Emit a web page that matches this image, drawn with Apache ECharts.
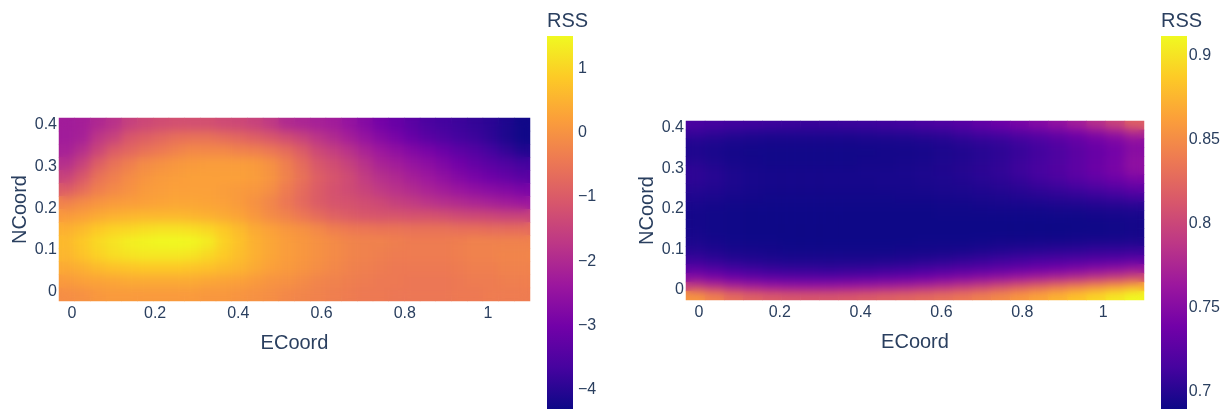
<!DOCTYPE html>
<html lang="en">
<head>
<meta charset="UTF-8">
<title>RSS heatmaps</title>
<style>
  html, body { margin: 0; background: #fff; }
  #chart { width: 1223px; height: 409px; }
  /* zlevel 1 holds a second copy of the heatmaps, softened like the smoothed originals */
  #chart canvas[data-zr-dom-id="zr_1"] {
    filter: blur(5px);
    clip-path: path('M59 118H530V301H59Z M686 121H1144V300H686Z');
  }
</style>
</head>
<body>
<div id="chart"></div>
<script src="https://cdn.jsdelivr.net/npm/echarts@6/dist/echarts.min.js"></script>
<script>
// values, rows listed from the top of the plot down
var leftRss = [
  [-2.3,-2.25,-2.05,-1.85,-1.55,-1.4,-1.3,-1.25,-1.25,-1.25,-1.35,-1.4,-1.5,-1.7,-2.0,-2.1,-2.2,-2.3,-2.5,-2.75,-3.0,-3.2,-3.4,-3.6,-3.7,-3.8,-3.9,-4.0,-4.15,-4.3],
  [-2.3,-2.2,-1.75,-1.5,-1.1,-.95,-.8,-.65,-.6,-.6,-.7,-.8,-.95,-1.1,-1.3,-1.5,-1.8,-2.0,-2.25,-2.5,-2.75,-2.95,-3.2,-3.4,-3.55,-3.7,-3.8,-3.95,-4.15,-4.3],
  [-2.2,-1.9,-1.45,-1.0,-.8,-.6,-.45,-.3,-.2,-.2,-.2,-.3,-.35,-.5,-.7,-1.0,-1.4,-1.6,-1.85,-2.15,-2.4,-2.6,-2.8,-2.95,-3.15,-3.35,-3.5,-3.7,-3.9,-4.1],
  [-1.9,-1.5,-.95,-.6,-.35,-.15,-.05,.05,.1,.15,.15,.15,.1,-.05,-.35,-.7,-1.1,-1.3,-1.55,-1.85,-2.15,-2.3,-2.5,-2.65,-2.85,-3.05,-3.25,-3.4,-3.55,-3.7],
  [-1.5,-1.1,-.6,-.35,-.15,0,.1,.15,.2,.2,.2,.2,.15,0,-.3,-.6,-.95,-1.15,-1.35,-1.65,-1.9,-2.05,-2.25,-2.4,-2.6,-2.8,-2.95,-3.1,-3.25,-3.4],
  [-1.0,-.7,-.35,-.2,-.05,.1,.15,.2,.2,.2,.15,.1,.05,-.1,-.4,-.7,-1.0,-1.2,-1.35,-1.5,-1.7,-1.85,-2.0,-2.15,-2.3,-2.45,-2.6,-2.7,-2.8,-2.9],
  [-.3,-.15,0,.1,.15,.2,.25,.3,.3,.25,.2,.1,-.05,-.25,-.5,-.75,-1.0,-1.15,-1.2,-1.3,-1.4,-1.55,-1.65,-1.8,-1.9,-2.0,-2.1,-2.2,-2.3,-2.4],
  [.1,.2,.35,.45,.5,.55,.55,.55,.5,.45,.35,.25,.05,-.15,-.3,-.5,-.7,-.9,-1.0,-1.1,-1.15,-1.15,-1.2,-1.2,-1.25,-1.35,-1.4,-1.45,-1.5,-1.5],
  [.45,.6,.8,.95,1.0,1.1,1.15,1.15,1.1,1.0,.8,.6,.35,.2,.05,-.05,-.2,-.35,-.45,-.5,-.55,-.55,-.6,-.6,-.6,-.65,-.65,-.7,-.7,-.7],
  [.6,.8,1.05,1.2,1.35,1.42,1.47,1.48,1.45,1.3,.95,.7,.45,.3,.15,.05,-.05,-.15,-.25,-.3,-.3,-.35,-.4,-.4,-.4,-.35,-.3,-.3,-.3,-.3],
  [.55,.75,.95,1.1,1.2,1.25,1.25,1.25,1.2,1.05,.85,.65,.45,.3,.15,.05,-.05,-.15,-.25,-.3,-.35,-.4,-.4,-.4,-.4,-.35,-.3,-.3,-.25,-.25],
  [.35,.45,.6,.7,.75,.8,.8,.8,.75,.7,.6,.5,.35,.2,.1,0,-.1,-.2,-.3,-.35,-.4,-.45,-.45,-.45,-.45,-.4,-.35,-.35,-.3,-.3],
  [.1,.2,.25,.3,.35,.35,.35,.35,.35,.3,.25,.2,.1,0,-.05,-.15,-.25,-.3,-.35,-.4,-.45,-.45,-.5,-.5,-.5,-.45,-.4,-.4,-.35,-.35],
  [-.1,-.05,.05,.1,.1,.1,.1,.1,.1,.05,.05,0,-.05,-.1,-.2,-.25,-.3,-.35,-.4,-.45,-.45,-.5,-.5,-.5,-.5,-.45,-.45,-.4,-.4,-.4]
];
var rightRss = [
  [.716,.714,.712,.711,.710,.709,.708,.708,.709,.710,.711,.713,.716,.719,.723,.729,.735,.742,.749,.757,.768,.782,.797,.818],
  [.706,.703,.700,.698,.697,.697,.697,.697,.697,.698,.699,.700,.702,.704,.708,.712,.715,.720,.725,.731,.738,.747,.757,.772],
  [.698,.696,.694,.693,.692,.692,.692,.692,.692,.693,.693,.694,.695,.697,.700,.703,.705,.710,.715,.721,.728,.735,.742,.752],
  [.696,.694,.692,.691,.691,.691,.691,.691,.691,.691,.692,.692,.693,.695,.697,.700,.703,.707,.712,.718,.725,.732,.739,.751],
  [.699,.696,.693,.692,.691,.691,.691,.691,.691,.692,.692,.693,.694,.696,.698,.701,.704,.709,.714,.719,.726,.733,.741,.755],
  [.703,.699,.695,.693,.692,.692,.692,.692,.692,.693,.693,.694,.695,.697,.699,.702,.705,.710,.715,.720,.727,.734,.742,.754],
  [.703,.700,.696,.694,.693,.693,.693,.693,.693,.693,.694,.694,.695,.696,.698,.701,.703,.707,.712,.717,.723,.729,.735,.743],
  [.700,.698,.695,.693,.692,.692,.692,.692,.692,.692,.693,.693,.694,.695,.696,.698,.700,.702,.706,.709,.713,.718,.723,.729],
  [.697,.695,.693,.692,.691,.691,.691,.691,.691,.691,.691,.692,.692,.693,.694,.695,.696,.698,.700,.702,.704,.707,.710,.714],
  [.694,.692,.691,.690,.690,.690,.690,.690,.690,.690,.690,.690,.690,.691,.691,.692,.693,.693,.694,.695,.696,.698,.699,.701],
  [.692,.691,.690,.689,.689,.689,.689,.689,.689,.689,.689,.689,.689,.690,.690,.690,.690,.690,.690,.691,.691,.692,.693,.694],
  [.692,.691,.690,.689,.689,.689,.689,.689,.689,.689,.689,.689,.689,.689,.689,.689,.689,.689,.689,.689,.689,.690,.691,.692],
  [.693,.691,.690,.689,.689,.689,.689,.689,.689,.689,.689,.689,.689,.689,.689,.689,.689,.689,.689,.689,.690,.690,.691,.692],
  [.695,.693,.691,.690,.690,.689,.689,.689,.689,.689,.689,.689,.690,.690,.690,.691,.692,.692,.693,.693,.694,.695,.695,.696],
  [.700,.697,.694,.693,.692,.691,.691,.691,.691,.691,.691,.692,.692,.693,.694,.696,.698,.700,.701,.703,.704,.706,.707,.708],
  [.708,.704,.700,.698,.696,.695,.695,.695,.695,.695,.696,.697,.699,.701,.704,.707,.710,.712,.715,.717,.719,.721,.723,.726],
  [.725,.719,.713,.710,.707,.705,.705,.704,.705,.706,.708,.710,.713,.716,.720,.723,.727,.731,.735,.739,.744,.749,.754,.760],
  [.750,.743,.735,.730,.727,.725,.724,.724,.725,.727,.730,.733,.737,.742,.747,.752,.757,.763,.769,.775,.781,.788,.795,.803],
  [.795,.785,.775,.768,.763,.760,.759,.760,.762,.765,.768,.772,.777,.783,.790,.797,.806,.815,.824,.833,.842,.851,.860,.870],
  [.855,.842,.828,.820,.815,.812,.811,.811,.813,.816,.819,.822,.826,.830,.835,.841,.848,.856,.864,.873,.882,.892,.902,.910]
];
var eCoordTicks = [0, 0.2, 0.4, 0.6, 0.8, 1];
var nCoordTicks = [0, 0.1, 0.2, 0.3, 0.4];
var leftBarTicks = [-4, -3, -2, -1, 0, 1];
var rightBarTicks = [0.7, 0.75, 0.8, 0.85, 0.9];
var plasma = ['#0d0887','#46039f','#7201a8','#9c179e','#bd3786','#d8576b','#ed7953','#fb9f3a','#fdca26','#f0f921'];

var ink = '#2a3f5f';
var font = '"Liberation Sans", Arial, sans-serif';

function toCells(rows) {
  var cells = [];
  rows.forEach(function (row, r) {
    row.forEach(function (v, c) {
      cells.push([c, rows.length - 1 - r, v]);
    });
  });
  return cells;
}
function indexes(n) {
  var out = [];
  for (var i = 0; i < n; i++) out.push(i);
  return out;
}
// rich wrapper so the padding can push the digits down to where the original has them
function tickText(v) {
  return '{t|' + String(v).replace('-', '\u2212') + '}';
}
var tickRich = { t: { color: ink, fontSize: 16, fontFamily: font, padding: [4, 0, 0, 0] } };

var panels = [
  { rows: leftRss, plot: [59, 118, 471, 183], xr: [-0.031, 1.101], yr: [-0.027, 0.412], bar: [547, 26], vr: [-4.34, 1.484], ticks: leftBarTicks },
  { rows: rightRss, plot: [686, 121, 458, 179], xr: [-0.032, 1.101], yr: [-0.03, 0.412], bar: [1161, 26], vr: [0.6887, 0.9107], ticks: rightBarTicks }
];

var option = { animation: false, backgroundColor: '#fff', textStyle: { fontFamily: font }, title: [], grid: [], xAxis: [], yAxis: [], visualMap: [], series: [], graphic: [] };

panels.forEach(function (p, i) {
  var base = option.grid.length;
  var axisBase = option.xAxis.length;
  option.grid.push({ left: p.plot[0], top: p.plot[1], width: p.plot[2], height: p.plot[3], containLabel: false });
  option.grid.push({ left: p.bar[0], top: 36, width: p.bar[1], height: 373, containLabel: false });

  // category axes carry the cells, value axes on the same grid carry the numbers
  option.xAxis.push({ type: 'category', gridIndex: base, data: indexes(p.rows[0].length), show: false });
  option.yAxis.push({ type: 'category', gridIndex: base, data: indexes(p.rows.length), show: false });
  option.xAxis.push({
    type: 'value', gridIndex: base, min: p.xr[0], max: p.xr[1], position: 'bottom',
    name: 'ECoord', nameLocation: 'middle', nameGap: 32, nameTextStyle: { color: ink, fontSize: 20, fontFamily: font },
    axisLine: { show: false }, axisTick: { show: false }, splitLine: { show: false },
    axisLabel: { customValues: eCoordTicks, color: ink, fontSize: 16, margin: 5, fontFamily: font, formatter: function (v) { return String(v); } }
  });
  option.yAxis.push({
    type: 'value', gridIndex: base, min: p.yr[0], max: p.yr[1], position: 'left',
    name: 'NCoord', nameLocation: 'middle', nameGap: 28, nameTextStyle: { color: ink, fontSize: 20, fontFamily: font },
    axisLine: { show: false }, axisTick: { show: false }, splitLine: { show: false },
    axisLabel: { customValues: nCoordTicks, margin: 2, formatter: tickText, rich: tickRich }
  });

  // colour bar scale
  option.xAxis.push({ type: 'value', gridIndex: base + 1, show: false });
  option.yAxis.push({
    type: 'value', gridIndex: base + 1, min: p.vr[0], max: p.vr[1], position: 'right',
    axisLine: { show: false }, axisTick: { show: false }, splitLine: { show: false },
    axisLabel: { customValues: p.ticks, margin: 5, formatter: tickText, rich: tickRich }
  });

  option.title.push({ text: 'RSS', left: p.bar[0], top: 11, padding: 0, textStyle: { color: ink, fontSize: 20, fontWeight: 'normal', fontFamily: font } });

  option.visualMap.push({
    type: 'continuous', show: false, seriesIndex: [i * 2, i * 2 + 1], dimension: 2, min: p.vr[0], max: p.vr[1],
    inRange: { color: plasma }
  });

  // the visualMap bar has rounded corners, so the colour bar is a plain gradient rect
  option.graphic.push({
    type: 'rect', left: p.bar[0], top: 36, silent: true,
    shape: { width: p.bar[1], height: 373 },
    style: {
      fill: new echarts.graphic.LinearGradient(0, 1, 0, 0, plasma.map(function (c, k) {
        return { offset: k / (plasma.length - 1), color: c };
      }))
    }
  });

  // sharp copy fills the plot right up to its edges, the blurred copy lies over it
  [0, 1].forEach(function (level) {
    option.series.push({
      type: 'heatmap', xAxisIndex: axisBase, yAxisIndex: axisBase, zlevel: level,
      data: toCells(p.rows), silent: true, progressive: 0,
      itemStyle: { borderWidth: 0 }
    });
  });
});

var chart = echarts.init(document.getElementById('chart'));
chart.setOption(option);
</script>
</body>
</html>
